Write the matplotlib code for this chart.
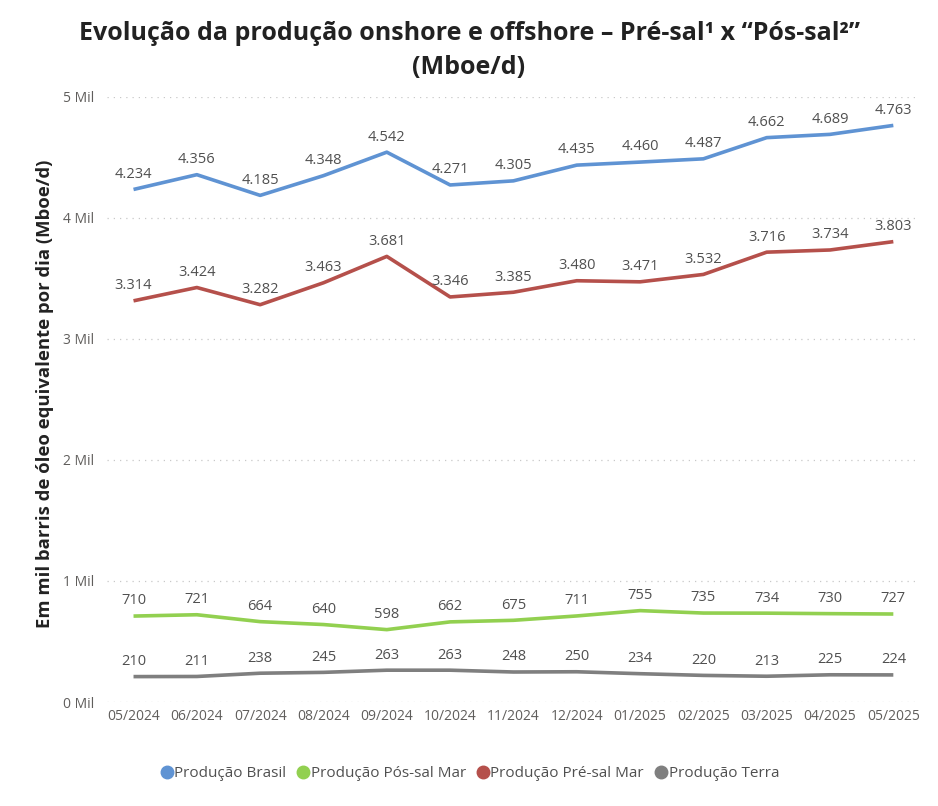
import matplotlib.pyplot as plt
from matplotlib.ticker import FuncFormatter
from matplotlib.lines import Line2D

plt.rcParams['font.family'] = ['Open Sans', 'DejaVu Sans']

months = ['05/2024', '06/2024', '07/2024', '08/2024', '09/2024', '10/2024', '11/2024',
          '12/2024', '01/2025', '02/2025', '03/2025', '04/2025', '05/2025']
brasil = [4234, 4356, 4185, 4348, 4542, 4271, 4305, 4435, 4460, 4487, 4662, 4689, 4763]
pos_sal = [710, 721, 664, 640, 598, 662, 675, 711, 755, 735, 734, 730, 727]
pre_sal = [3314, 3424, 3282, 3463, 3681, 3346, 3385, 3480, 3471, 3532, 3716, 3734, 3803]
terra = [210, 211, 238, 245, 263, 263, 248, 250, 234, 220, 213, 225, 224]

series = [
    ('Produção Brasil', brasil, '#5F93D3'),
    ('Produção Pós-sal Mar', pos_sal, '#92D050'),
    ('Produção Pré-sal Mar', pre_sal, '#B5504B'),
    ('Produção Terra', terra, '#7F7F7F'),
]

fig = plt.figure(figsize=(9.38, 8.06), dpi=100)
ax = fig.add_axes([0.114, 0.129, 0.862, 0.751])

x = list(range(len(months)))
for name, vals, color in series:
    ax.plot(x, vals, color=color, linewidth=2.6, solid_capstyle='butt', zorder=3)
    for xi, v in zip(x, vals):
        txt = f'{v / 1000:.3f}' if v >= 1000 else str(v)
        ax.annotate(txt, (xi, v), xytext=(0, 5.5), textcoords='offset points',
                    ha='center', va='bottom', fontsize=10.5, color='#505050')

ax.set_xlim(-0.42, 12.35)
ax.set_ylim(0, 5000)
ax.set_yticks(range(0, 5001, 1000))
ax.yaxis.set_major_formatter(FuncFormatter(lambda v, p: f'{int(v / 1000)} Mil'))
ax.set_xticks(x)
ax.set_xticklabels(months)
ax.tick_params(axis='both', length=0, labelsize=10, colors='#605E5C')
ax.tick_params(axis='y', pad=9)
ax.tick_params(axis='x', pad=5)
ax.grid(axis='y', linestyle=(0, (1, 4)), color='#C8C8C8', linewidth=0.9)
for s in ax.spines.values():
    s.set_visible(False)

ax.set_ylabel('Em mil barris de óleo equivalente por dia (Mboe/d)', fontsize=13.3,
              fontweight='bold', color='#222222', va='center')
ax.yaxis.set_label_coords(-0.077, 0.509)

fig.suptitle('Evolução da produção onshore e offshore – Pré-sal¹ x “Pós-sal²”\n(Mboe/d)',
             fontsize=18, fontweight='bold', color='#222222', y=0.974, linespacing=1.45)

handles = [Line2D([], [], marker='o', linestyle='', color=c, markersize=9) for _, _, c in series]
fig.legend(handles, [n for n, _, _ in series], loc='center', bbox_to_anchor=(0.5, 0.04),
           ncol=4, frameon=False, fontsize=11, labelcolor='#505050',
           handletextpad=0.0, columnspacing=0.6, handlelength=1.0)

fig.savefig('out.png', dpi=100)
